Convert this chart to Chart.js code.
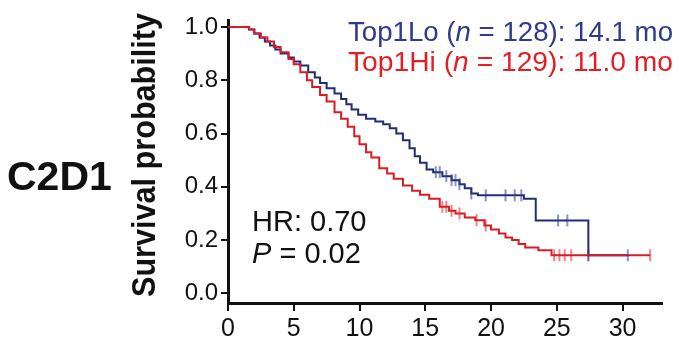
<!DOCTYPE html>
<html>
<head>
<meta charset="utf-8">
<script src="https://cdn.jsdelivr.net/npm/chart.js@4.4.0/dist/chart.umd.min.js"></script>
<style>
  html, body { margin: 0; padding: 0; background: #fff; }
  #wrap { width: 679px; height: 340px; position: relative; }
</style>
</head>
<body>
<div id="wrap"><canvas id="km"></canvas></div>
<script>
// Top1Lo (blue) Kaplan-Meier steps, months / survival
const loTime = [0, 1.2, 1.6, 2.0, 2.4, 2.8, 3.2, 3.6, 4.0, 4.6, 5.0, 5.5, 6.1, 6.6, 7.0, 7.5, 8.1, 8.6, 9.0, 9.4, 9.9,
                10.5, 11.2, 11.8, 12.3, 12.8, 13.3, 13.8, 14.2, 14.6, 15.1, 15.6, 16.3, 17.0, 17.6, 18.0, 18.5, 19.0,
                22.5, 23.4, 27.4, 30.4];
const loSurv = [1.0, 1.0, 0.99, 0.975, 0.96, 0.945, 0.93, 0.915, 0.9, 0.885, 0.87, 0.855, 0.83, 0.81, 0.79, 0.77, 0.75, 0.73, 0.71, 0.69, 0.67,
                0.655, 0.645, 0.635, 0.62, 0.6, 0.575, 0.545, 0.515, 0.49, 0.465, 0.455, 0.44, 0.425, 0.41, 0.395, 0.375, 0.368,
                0.355, 0.274, 0.143, 0.143];

// Top1Hi (red)
const hiTime = [0, 1.2, 1.6, 2.0, 2.5, 3.0, 3.5, 4.0, 4.6, 5.0, 5.5, 6.0, 6.4, 7.0, 7.5, 8.1, 8.6, 9.1, 9.6, 10.0, 10.5,
                10.9, 11.5, 12.1, 12.6, 13.3, 14.0, 14.6, 15.3, 16.1, 16.8, 17.3, 18.0, 18.8, 19.5, 20.0, 20.6, 21.1,
                21.6, 22.1, 22.6, 23.6, 24.6, 32.1];
const hiSurv = [1.0, 1.0, 0.99, 0.975, 0.96, 0.945, 0.925, 0.905, 0.88, 0.86, 0.83, 0.8, 0.775, 0.745, 0.72, 0.68, 0.655, 0.625, 0.59, 0.56, 0.53,
                0.51, 0.47, 0.45, 0.43, 0.405, 0.385, 0.37, 0.355, 0.325, 0.31, 0.3, 0.285, 0.275, 0.255, 0.24, 0.225, 0.21,
                0.2, 0.185, 0.172, 0.162, 0.143, 0.143];

// censored patients (tick marks)
const loCensTime = [15.8, 16.1, 16.6, 17.0, 17.3, 17.6, 18.5, 19.6, 21.1, 21.8, 22.3, 25.1, 25.8, 27.4, 30.4];
const loCensSurv = [0.455, 0.455, 0.44, 0.425, 0.425, 0.41, 0.375, 0.368, 0.368, 0.368, 0.368, 0.274, 0.274, 0.143, 0.143];
const hiCensTime = [16.3, 16.6, 17.0, 17.6, 18.9, 19.6, 24.8, 25.2, 25.6, 26.1, 27.4, 32.1];
const hiCensSurv = [0.325, 0.325, 0.31, 0.3, 0.275, 0.255, 0.143, 0.143, 0.143, 0.143, 0.143, 0.143];

const xTicks = [0, 5, 10, 15, 20, 25, 30];
const yTicks = [0, 0.2, 0.4, 0.6, 0.8, 1.0];

const panelLabel = 'C2D1';
const yTitle = 'Survival probability';
const loLegend = [['Top1Lo (', false], ['n', true], [' = 128): 14.1 mo', false]];
const hiLegend = [['Top1Hi (', false], ['n', true], [' = 129): 11.0 mo', false]];
const hrText = 'HR: 0.70';
const pText = [['P', true], [' = 0.02', false]];

const FONT = "'Liberation Sans', Arial, sans-serif";
const BLUE = '#2e3a8c';
const BLUE_LINE = '#232d73';
const RED = '#e31e24';
const RED_LINE = '#d81c26';
const INK = '#111';

const pts = (xs, ys) => xs.map((x, i) => ({ x, y: ys[i] }));

// draws pieces of text (some italic) in a row, squeezed to a width if given
function drawRuns(ctx, runs, x, y, size, weight, targetW) {
    let total = 0;
    runs.forEach(([t, it]) => {
        ctx.font = (it ? 'italic ' : '') + weight + ' ' + size + 'px ' + FONT;
        total += ctx.measureText(t).width;
    });
    const k = targetW ? targetW / total : 1;
    ctx.save();
    ctx.translate(x, y);
    ctx.scale(k, 1);
    let cx = 0;
    runs.forEach(([t, it]) => {
        ctx.font = (it ? 'italic ' : '') + weight + ' ' + size + 'px ' + FONT;
        ctx.fillText(t, cx, 0);
        cx += ctx.measureText(t).width;
    });
    ctx.restore();
}

const textPlugin = {
    id: 'kmText',
    afterDraw(chart) {
        const ctx = chart.ctx;
        ctx.save();
        ctx.textBaseline = 'alphabetic';
        ctx.textAlign = 'left';

        ctx.fillStyle = INK;
        ctx.font = 'bold 41px ' + FONT;
        ctx.fillText(panelLabel, 7, 190);

        // rotated axis title
        ctx.save();
        ctx.translate(155, 155);
        ctx.rotate(-Math.PI / 2);
        ctx.font = 'bold 34px ' + FONT;
        const w = ctx.measureText(yTitle).width;
        ctx.scale(284 / w, 1);
        ctx.textAlign = 'center';
        ctx.fillText(yTitle, 0, 0);
        ctx.restore();

        ctx.fillStyle = BLUE;
        drawRuns(ctx, loLegend, 348, 41, 28, 'normal', 325);
        ctx.fillStyle = RED;
        drawRuns(ctx, hiLegend, 348, 71, 28, 'normal', 325);

        ctx.fillStyle = INK;
        drawRuns(ctx, [[hrText, false]], 252, 231, 29, 'normal');
        drawRuns(ctx, pText, 252, 263, 29, 'normal');
        ctx.restore();
    }
};

const axisGrid = { drawOnChartArea: false, drawTicks: true, color: INK, lineWidth: 2 };

new Chart(document.getElementById('km'), {
    type: 'line',
    data: {
        datasets: [
            {
                label: 'Top1Lo',
                data: pts(loTime, loSurv),
                stepped: true,
                borderColor: BLUE_LINE,
                borderWidth: 2,
                pointRadius: 0,
                fill: false,
                order: 2
            },
            {
                label: 'Top1Hi',
                data: pts(hiTime, hiSurv),
                stepped: true,
                borderColor: RED_LINE,
                borderWidth: 2,
                pointRadius: 0,
                fill: false,
                order: 1
            },
            {
                type: 'scatter',
                label: 'Lo censored',
                data: pts(loCensTime, loCensSurv),
                pointStyle: 'line',
                rotation: 90,
                pointRadius: 6,
                borderWidth: 2,
                borderColor: 'rgba(46,58,140,0.55)',
                order: 0
            },
            {
                type: 'scatter',
                label: 'Hi censored',
                data: pts(hiCensTime, hiCensSurv),
                pointStyle: 'line',
                rotation: 90,
                pointRadius: 6,
                borderWidth: 2,
                borderColor: 'rgba(227,30,36,0.55)',
                order: 0
            }
        ]
    },
    options: {
        responsive: true,
        maintainAspectRatio: false,
        animation: false,
        layout: { padding: { left: 0, right: 17, top: 20, bottom: 0 } },
        plugins: { legend: { display: false }, tooltip: { enabled: false } },
        scales: {
            x: {
                type: 'linear',
                min: 0,
                max: 33,
                afterBuildTicks: s => { s.ticks = xTicks.map(v => ({ value: v })); },
                afterFit: s => { s.height = 37; },
                ticks: { color: INK, font: { family: FONT, size: 25 }, padding: 3, maxRotation: 0, autoSkip: false },
                grid: { ...axisGrid, tickLength: 8 },
                border: { color: INK, width: 3 }
            },
            y: {
                type: 'linear',
                min: -0.036,
                max: 1.026,
                afterBuildTicks: s => { s.ticks = yTicks.map(v => ({ value: v })); },
                afterFit: s => { s.width = 228; },
                ticks: { color: INK, font: { family: FONT, size: 24 }, padding: 3, callback: v => v.toFixed(1) },
                grid: { ...axisGrid, tickLength: 7 },
                border: { color: INK, width: 3 }
            }
        }
    },
    plugins: [textPlugin]
});
</script>
</body>
</html>
